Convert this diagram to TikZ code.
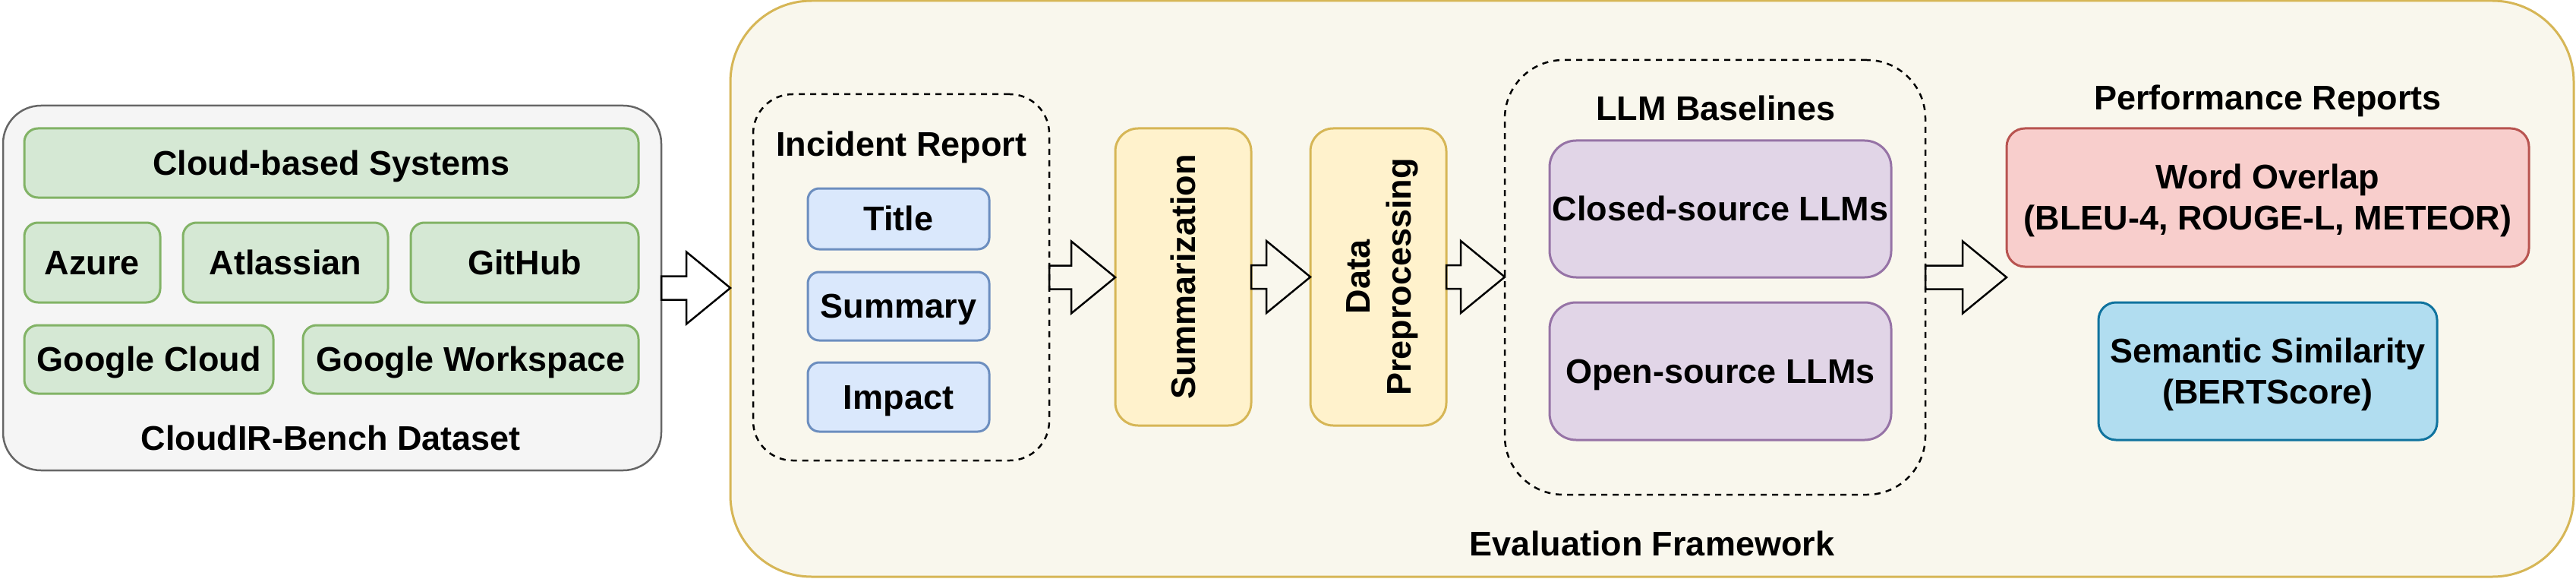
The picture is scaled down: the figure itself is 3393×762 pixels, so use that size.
\documentclass[tikz,border=0pt]{standalone}
\usepackage{fontspec}
\setmainfont{Liberation Sans}
\usetikzlibrary{calc}
\definecolor{grayfill}{HTML}{F5F5F5}
\definecolor{graydraw}{HTML}{666666}
\definecolor{greenfill}{HTML}{D5E8D4}
\definecolor{greendraw}{HTML}{82B366}
\definecolor{outerfill}{HTML}{F9F7ED}
\definecolor{yeldraw}{HTML}{D6B656}
\definecolor{yelfill}{HTML}{FFF2CC}
\definecolor{bluefill}{HTML}{DAE8FC}
\definecolor{bluedraw}{HTML}{6C8EBF}
\definecolor{purpfill}{HTML}{E1D5E7}
\definecolor{purpdraw}{HTML}{9673A6}
\definecolor{redfill}{HTML}{F8CECC}
\definecolor{reddraw}{HTML}{B85450}
\definecolor{cyanfill}{HTML}{B1DDF0}
\definecolor{cyandraw}{HTML}{10739E}
\newcommand\dstrut{\rule[-0.212em]{0pt}{1.117em}}
\newcommand\blockarr[2]{%
  \draw[barrow] let \p1=(#1.east), \p2=(#2.west) in
    (\x1,\y1+15.5pt) -- (\x2-58pt,\y1+15.5pt) -- (\x2-58pt,\y1+47.5pt) --
    (\x2,\y1) -- (\x2-58pt,\y1-47.5pt) -- (\x2-58pt,\y1-15.5pt) --
    (\x1,\y1-15.5pt) -- cycle;}
\begin{document}
\begin{tikzpicture}[x=1pt,y=-1pt,
  every node/.style={outer sep=0pt, inner sep=0pt, align=center,
    font=\fontsize{45}{54}\selectfont\bfseries},
  outerbox/.style={draw=yeldraw, fill=outerfill, line width=3pt, rounded corners=107pt},
  graybox/.style={draw=graydraw, fill=grayfill, line width=2.5pt, rounded corners=50pt},
  greenbox/.style={draw=greendraw, fill=greenfill, line width=3pt, rounded corners=18pt},
  bluebox/.style={draw=bluedraw, fill=bluefill, line width=3pt, rounded corners=15pt, minimum width=239pt},
  yelbox/.style={draw=yeldraw, fill=yelfill, line width=3pt, rounded corners=30pt, minimum width=179pt, minimum height=391pt},
  purpbox/.style={draw=purpdraw, fill=purpfill, line width=3pt, rounded corners=35pt, minimum width=450pt},
  redbox/.style={draw=reddraw, fill=redfill, line width=3pt, rounded corners=24pt},
  cyanbox/.style={draw=cyandraw, fill=cyanfill, line width=3pt, rounded corners=23pt},
  dashbox/.style={draw=black, line width=2.5pt, dash pattern=on 8pt off 7pt},
  lbl/.style={},
  barrow/.style={draw=black, line width=2.5pt, line join=miter}]
\useasboundingbox (0,0) rectangle (3393,762);
% outer evaluation framework
\node[outerbox, minimum width=2428pt, minimum height=758pt] (outer) at (2176,380) {};
% dataset
\node[graybox, minimum width=867pt, minimum height=480pt] (gray) at (437.5,379) {};
\node[greenbox, minimum width=809pt, minimum height=91pt] (cloud) at (436.5,214.5) {\dstrut Cloud-based Systems};
\node[greenbox, minimum width=179pt, minimum height=105pt] (azure) at (121.5,345.5) {\dstrut Azure};
\node[greenbox, minimum width=270pt, minimum height=105pt] (atlassian) at (376,345.5) {\dstrut Atlassian};
\node[greenbox, minimum width=300pt, minimum height=105pt] (github) at (691,345.5) {\dstrut GitHub};
\node[greenbox, minimum width=328pt, minimum height=90pt] (gcloud) at (196,473) {\dstrut Google Cloud};
\node[greenbox, minimum width=442pt, minimum height=90pt] (gwork) at (620,473) {\dstrut Google Workspace};
\node[lbl] (dslabel) at (436,577) {\dstrut CloudIR-Bench Dataset};
% incident report
\node[dashbox, rounded corners=52pt, minimum width=390pt, minimum height=482pt] (irbox) at (1187,365) {};
\node[lbl] (irlabel) at (1187,190) {\dstrut Incident Report};
\node[bluebox, minimum height=80pt] (title) at (1183.5,288) {\dstrut Title};
\node[bluebox, minimum height=90pt] (summary) at (1183.5,403) {\dstrut Summary};
\node[bluebox, minimum height=91pt] (impact) at (1183.5,522.5) {\dstrut Impact};
% steps
\node[yelbox] (summ) at (1558.5,364.5) {};
\node[rotate=90] (summtext) at (summ.center) {\dstrut Summarization};
\node[yelbox] (data) at (1815.5,364.5) {};
\node[rotate=90] (datatext) at (data.center) {\dstrut Data\\\dstrut Preprocessing};
% LLM baselines
\node[dashbox, rounded corners=77pt, minimum width=554pt, minimum height=572pt] (llmbox) at (2259,365) {};
\node[lbl] (llmlabel) at (2260,143) {\dstrut LLM Baselines};
\node[purpbox, minimum height=180pt] (closed) at (2266,275) {\dstrut Closed-source LLMs};
\node[purpbox, minimum height=181pt] (open) at (2266,488.5) {\dstrut Open-source LLMs};
% performance reports
\node[lbl] (perflabel) at (2987,129) {\dstrut Performance Reports};
\node[redbox, minimum width=688pt, minimum height=182pt] (word) at (2987,260) {\dstrut Word Overlap\\\dstrut (BLEU-4, ROUGE-L, METEOR)};
\node[cyanbox, minimum width=446pt, minimum height=181pt] (sem) at (2987,488.5) {\dstrut Semantic Similarity\\\dstrut (BERTScore)};
\node[lbl] (evallabel) at (2176,716) {\dstrut Evaluation Framework};
% block arrows
\blockarr{gray}{outer}
\blockarr{irbox}{summ}
\blockarr{summ}{data}
\blockarr{data}{llmbox}
\blockarr{llmbox}{word}
\end{tikzpicture}
\end{document}
